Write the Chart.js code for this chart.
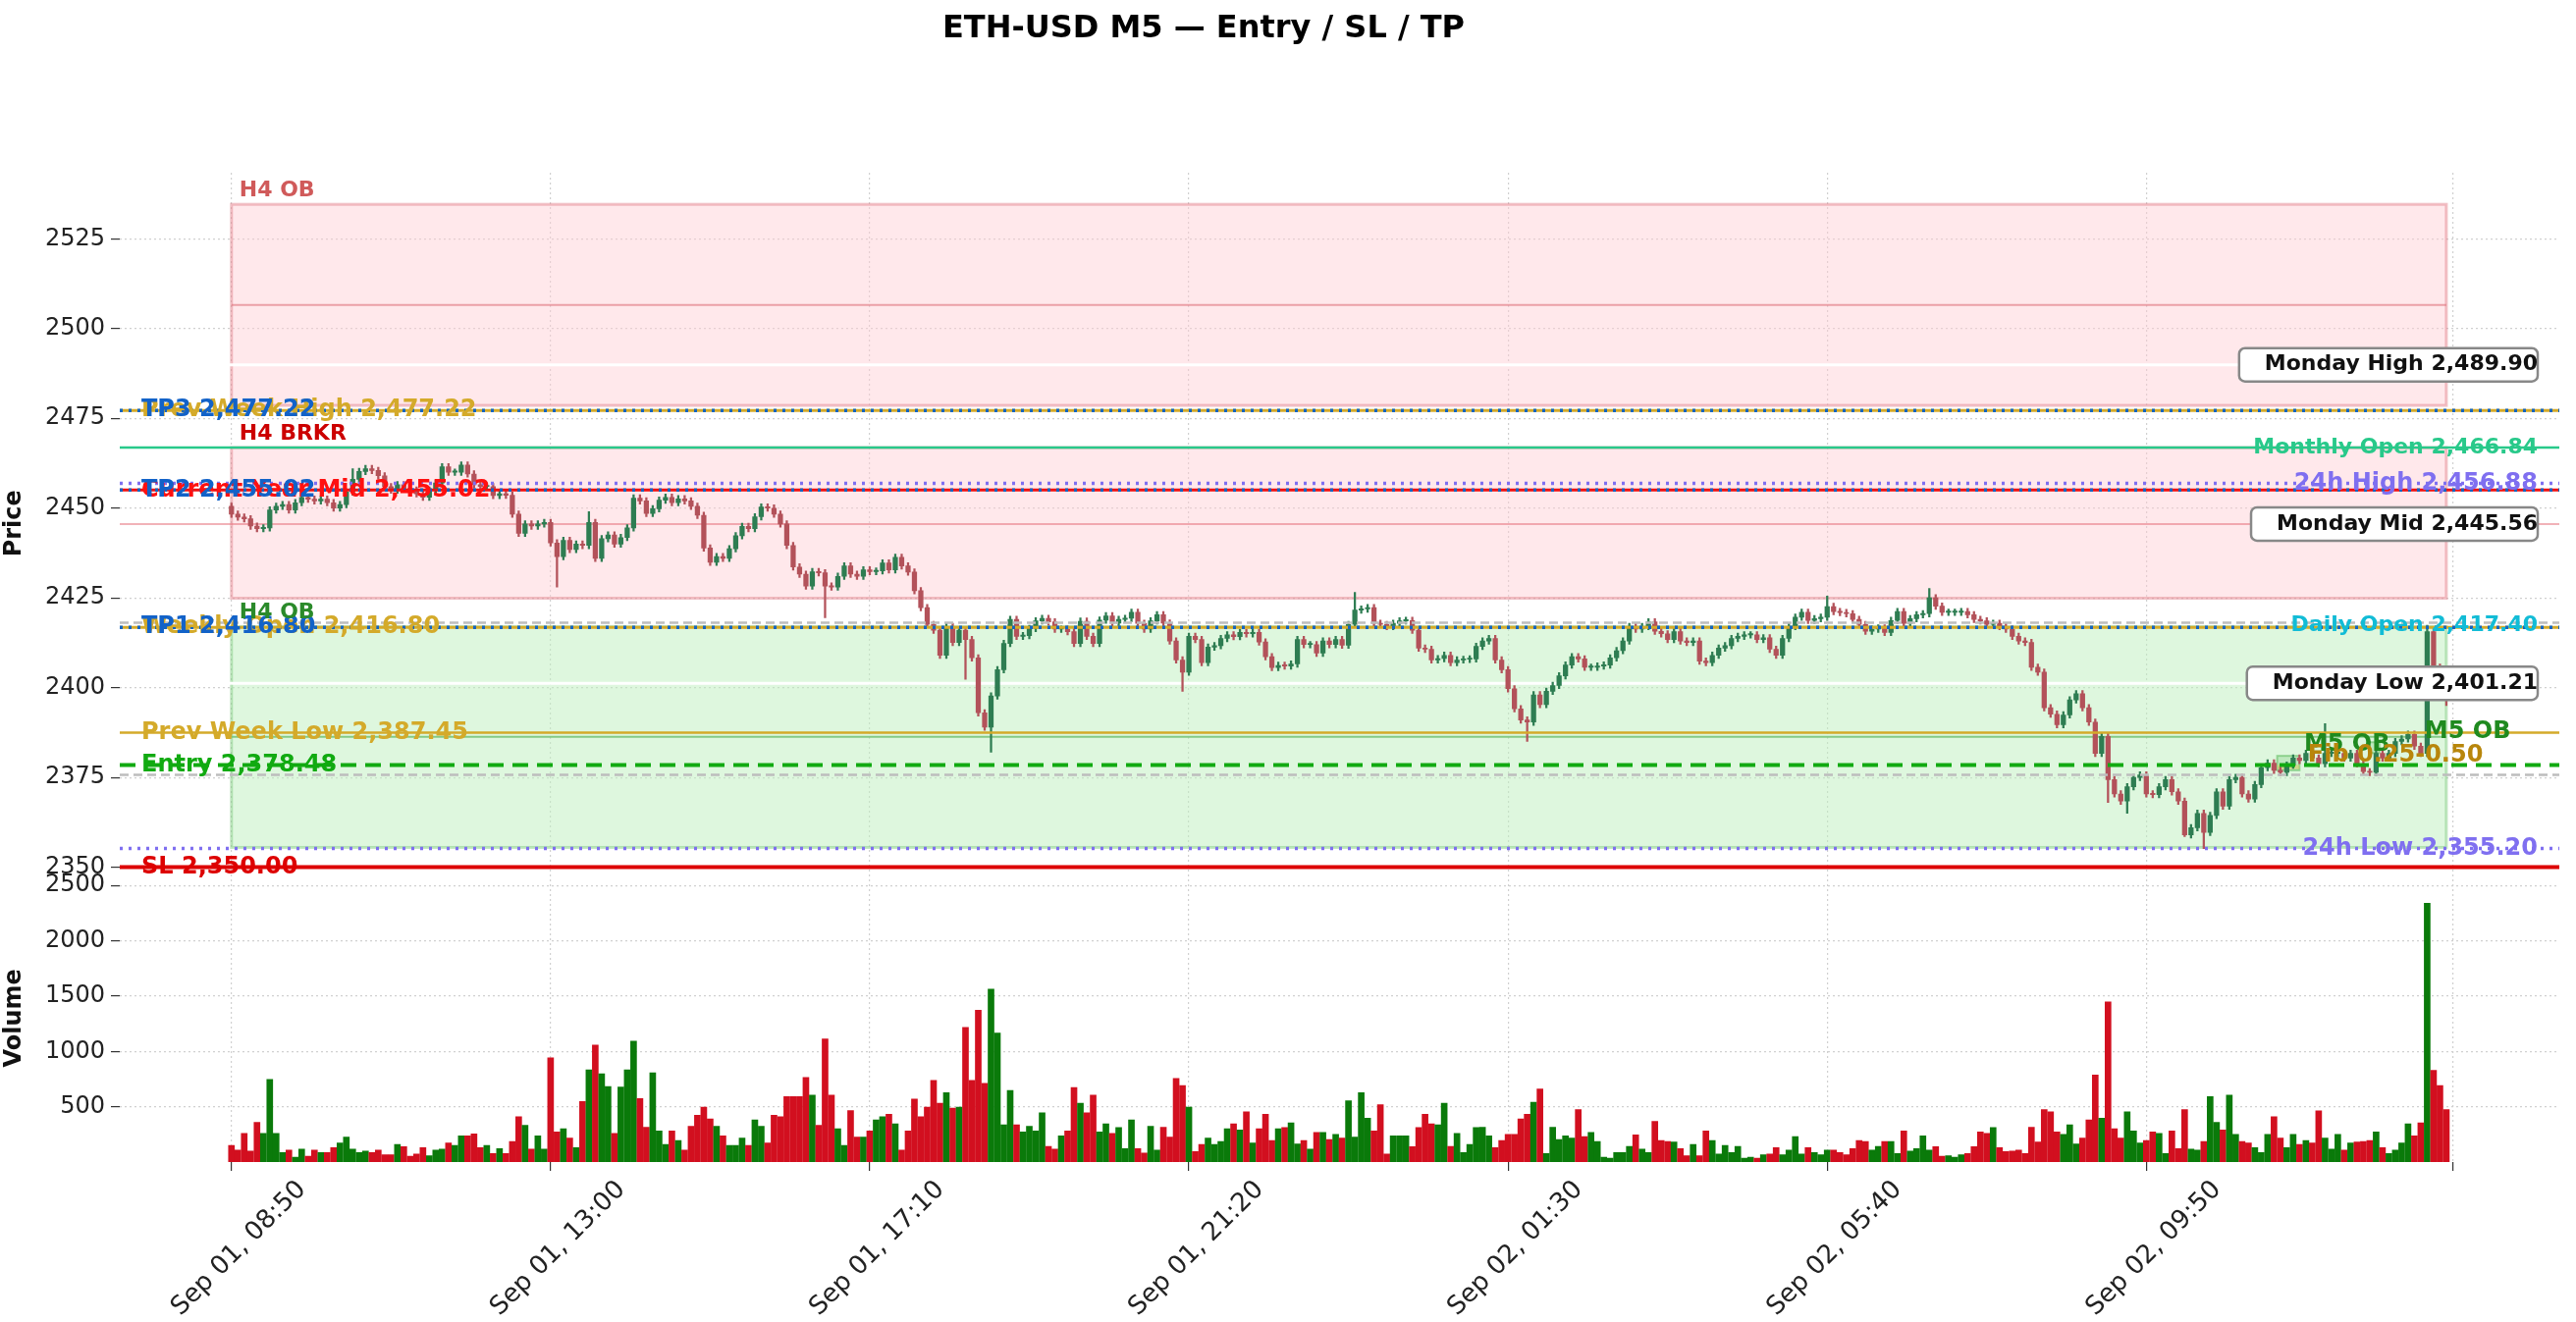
<!DOCTYPE html>
<html>
<head>
<meta charset="utf-8">
<script src="https://cdn.jsdelivr.net/npm/chart.js@4.4.0/dist/chart.umd.min.js"></script>
<style>
  html, body { margin: 0; padding: 0; background: #fff; }
  #wrap { width: 2624px; height: 1347px; position: relative; }
</style>
</head>
<body>
<div id="wrap"><canvas id="ethChart" width="2624" height="1347"></canvas></div>
<script>
// --- Candle data (M5, 348 bars from Sep 01 08:50) ---
const firstOpen = 2450.5;
const closes = [
  2448.3,2447.5,2447.0,2445.0,2444.3,2444.5,2449.5,2450.5,2451.0,2449.5,
  2451.5,2453.0,2452.5,2452.0,2452.5,2451.5,2450.0,2451.0,2454.5,2458.0,
  2460.2,2461.0,2460.5,2459.0,2456.0,2455.0,2456.5,2455.5,2455.0,2454.0,
  2453.0,2455.0,2457.0,2461.5,2460.0,2460.0,2462.0,2459.5,2456.5,2456.0,
  2456.0,2453.5,2454.0,2453.6,2448.3,2443.0,2445.6,2445.0,2445.6,2446.0,
  2440.3,2436.5,2441.0,2438.5,2440.0,2439.6,2446.0,2436.0,2441.5,2442.5,
  2440.0,2441.8,2444.5,2452.8,2452.0,2448.5,2449.8,2452.2,2453.0,2451.5,
  2452.6,2452.0,2450.5,2448.0,2438.9,2434.9,2436.5,2436.0,2438.7,2442.3,
  2444.9,2444.3,2447.6,2450.3,2450.0,2448.3,2445.6,2439.6,2433.6,2431.6,
  2428.3,2432.3,2432.0,2428.3,2428.0,2431.0,2433.9,2431.6,2431.0,2432.8,
  2432.3,2432.5,2434.7,2432.8,2436.3,2433.9,2432.2,2427.0,2422.3,2417.6,
  2416.0,2409.0,2417.0,2412.6,2416.0,2413.4,2408.3,2393.0,2389.0,2397.7,
  2405.0,2412.3,2419.0,2414.3,2414.5,2416.5,2418.6,2419.3,2418.3,2416.3,
  2416.3,2415.6,2412.3,2418.5,2414.3,2412.3,2418.8,2420.0,2418.0,2419.0,
  2419.3,2421.0,2417.9,2416.3,2418.6,2420.3,2418.0,2413.0,2407.7,2404.3,
  2414.3,2413.4,2407.0,2411.3,2411.7,2413.7,2414.7,2414.2,2415.4,2415.0,
  2415.4,2412.7,2408.6,2405.6,2406.2,2406.0,2406.6,2413.4,2412.0,2412.0,
  2409.6,2413.0,2412.0,2413.4,2411.8,2417.6,2421.6,2421.9,2422.3,2417.9,
  2417.6,2417.0,2417.9,2418.6,2418.7,2416.0,2411.0,2410.7,2407.7,2408.1,
  2409.0,2407.0,2407.7,2407.9,2408.0,2411.5,2413.0,2413.7,2407.7,2405.0,
  2399.7,2394.1,2391.0,2390.4,2398.0,2395.3,2399.0,2400.6,2403.3,2406.3,
  2408.6,2408.0,2405.7,2405.7,2406.0,2406.3,2408.3,2410.3,2413.0,2417.0,
  2416.3,2417.0,2418.3,2415.7,2415.0,2413.4,2415.6,2413.0,2412.6,2413.0,
  2407.4,2407.0,2409.0,2411.0,2411.7,2413.7,2414.3,2414.7,2414.7,2413.4,
  2413.9,2410.7,2409.0,2413.7,2417.0,2419.6,2421.0,2418.7,2419.2,2419.6,
  2422.6,2421.2,2420.9,2420.6,2419.0,2417.6,2415.7,2416.3,2416.6,2415.4,
  2418.7,2421.2,2417.9,2419.2,2420.3,2420.6,2425.0,2422.7,2421.0,2421.0,
  2421.0,2421.2,2420.3,2419.0,2418.6,2417.6,2417.9,2417.0,2416.3,2414.3,
  2413.0,2412.6,2405.7,2404.3,2394.4,2392.6,2389.7,2392.4,2396.6,2398.3,
  2394.4,2390.4,2381.7,2386.4,2374.4,2370.4,2368.4,2372.4,2375.0,2375.7,
  2370.4,2370.2,2372.4,2374.4,2371.0,2368.4,2359.0,2361.0,2365.0,2359.7,
  2364.4,2371.0,2367.0,2374.4,2375.0,2370.4,2369.0,2373.0,2377.7,2379.0,
  2377.0,2376.4,2378.4,2380.4,2379.7,2381.7,2380.4,2378.8,2381.7,2381.7,
  2381.7,2380.4,2381.7,2378.8,2376.6,2376.4,2381.7,2380.4,2381.7,2385.0,
  2385.7,2387.0,2383.7,2381.7,2415.6,2405.7,2404.3,2399.5
];
// long wicks that stand out: [index, high, low]
const wickExtremes = [
  [19, 2461.0, null], [51, null, 2428.0], [56, 2449.0, null], [93, null, 2419.5],
  [115, null, 2402.3], [119, null, 2382.0], [149, null, 2399.0], [176, 2426.5, null],
  [203, null, 2385.0], [250, 2425.5, null], [266, 2427.6, null], [294, null, 2368.0],
  [297, null, 2365.0], [306, null, 2358.5], [309, null, 2355.2], [328, 2390.0, null],
  [344, 2417.4, null], [347, null, 2395.0]
];
const volumes = [
  151,108,259,99,358,259,747,259,86,108, 43,117,52,108,86,86,130,173,225,117,
  86,99,86,108,65,65,160,138,52,73, 130,56,108,117,173,151,237,237,255,130,
  151,78,121,78,186,410,332,117,237,117, 941,272,302,216,130,548,833,1058,799,682,
  259,678,833,1092,574,315,807,281,160,281, 194,108,324,423,497,389,324,237,151,151,
  216,151,380,324,173,423,410,592,592,592,
  764,605,332,1114,605,302,151,466,225,225, 281,380,410,432,345,108,281,570,410,497,
  738,531,626,488,497,1218,738,1373,712,1563, 1166,337,648,337,272,324,281,445,142,117,
  237,281,674,531,445,605,272,345,259,311, 121,380,121,82,324,108,315,225,756,691,
  497,95,160,216,160,186,302,345,289,453, 173,302,432,194,302,311,354,164,194,117,
  268,268,203,250,216,553,225,
  626,397,281,518,73,237,237,237,138,311, 432,345,337,531,142,259,86,160,311,315,
  237,130,194,250,250,389,432,540,661,78, 315,203,237,216,475,229,268,186,43,35,
  86,86,142,246,117,86,367,194,186,181, 121,56,160,56,281,194,73,151,86,142,
  35,43,35,65,73,130,65,108,229,73, 130,86,65,108,108,86,65,121,194,186,
  108,142,186,186,78,281,99,121,237,
  108,138,52,56,43,65,78,138,272,259, 311,130,95,99,108,78,315,181,475,453,
  272,250,337,164,216,380,786,397,1447,302, 216,453,281,173,194,272,259,78,281,121,
  475,117,108,186,592,358,289,605,250,186, 173,130,86,250,410,216,130,250,160,194,
  173,462,216,117,250,108,173,181,186,194, 272,130,78,108,173,345,237,354,2340,829,
  691,475
];

// --- Axis ticks ---
const xTickPos = [0, 50, 100, 150, 200, 250, 300, 348];
const xTickLabels = ["Sep 01, 08:50", "Sep 01, 13:00", "Sep 01, 17:10", "Sep 01, 21:20",
                     "Sep 02, 01:30", "Sep 02, 05:40", "Sep 02, 09:50", ""];
const priceTicks = [2350, 2375, 2400, 2425, 2450, 2475, 2500, 2525];
const volumeTicks = [500, 1000, 1500, 2000, 2500];

// --- Trade levels ---
const entryPrice = 2378.48;
const slPrice = 2350.00;
const tpPrices = [2416.80, 2455.02, 2477.22];
const refLevels = {
  prevWeekHigh: 2477.22, monthlyOpen: 2466.84, high24h: 2456.88, currentYearMid: 2455.02,
  dailyOpen: 2417.40, weeklyOpen: 2416.80, prevWeekLow: 2387.45, low24h: 2355.20
};
const mondayLevels = [2489.90, 2445.56, 2401.21];
const h4BearOB = [2478.6, 2534.6];
const h4Breaker = [2424.9, 2466.84];
const h4BullOB = [2355.5, 2417.0];
const m5OBs = [[320.5, 324, 2377.0, 2381.0], [335, 336.5, 2381.8, 2384.8]];
const fibZone = [320.5, 324, 2377.3, 2378.5];

// build OHLC
const opens = closes.map((c, i) => i === 0 ? firstOpen : closes[i - 1]);
const highs = closes.map((c, i) => Math.max(opens[i], c) + 0.9);
const lows = closes.map((c, i) => Math.min(opens[i], c) - 0.9);
wickExtremes.forEach(([i, h, l]) => { if (h !== null) highs[i] = h; if (l !== null) lows[i] = l; });

const upCandle = "#2e7d52", downCandle = "#b3525a";
const upVol = "#0a7a0a", downVol = "#d20f1f";
const isUp = closes.map((c, i) => c >= opens[i]);

const fmt = v => v.toLocaleString("en-US", { minimumFractionDigits: 2, maximumFractionDigits: 2 });
const BOLD = "bold 22px 'DejaVu Sans'";
const BIG = "bold 24px 'DejaVu Sans'";

// --- Drawing levels, zones and labels ---
const levelsPlugin = {
  id: "levels",
  beforeDatasetsDraw(chart) {
    const { ctx, scales: { x, y } } = chart;
    const box = (i0, i1, p0, p1, fill, stroke, lw) => {
      const xa = x.getPixelForValue(i0), xb = x.getPixelForValue(i1);
      const ya = y.getPixelForValue(p1), yb = y.getPixelForValue(p0);
      ctx.fillStyle = fill; ctx.fillRect(xa, ya, xb - xa, yb - ya);
      if (stroke) { ctx.strokeStyle = stroke; ctx.lineWidth = lw || 2; ctx.strokeRect(xa, ya, xb - xa, yb - ya); }
    };
    ctx.save();
    box(0, 347, h4BearOB[0], h4BearOB[1], "rgba(255,205,210,0.45)", "rgba(225,120,130,0.45)", 3);
    box(0, 347, h4Breaker[0], h4Breaker[1], "rgba(255,205,210,0.45)", "rgba(225,120,130,0.45)", 3);
    box(0, 347, h4BullOB[0], h4BullOB[1], "rgba(190,240,190,0.5)", "rgba(120,200,120,0.45)", 3);
    const seg = (p, color, lw) => {
      const py = y.getPixelForValue(p);
      ctx.strokeStyle = color; ctx.lineWidth = lw;
      ctx.beginPath(); ctx.moveTo(x.getPixelForValue(0), py); ctx.lineTo(x.getPixelForValue(347), py); ctx.stroke();
    };
    seg((h4BearOB[0] + h4BearOB[1]) / 2, "rgba(220,110,120,0.6)", 2);
    seg(2386.3, "rgba(110,190,110,0.8)", 2);
    const full = (p, color, lw) => {
      const py = y.getPixelForValue(p);
      ctx.strokeStyle = color; ctx.lineWidth = lw;
      ctx.beginPath(); ctx.moveTo(chart.chartArea.left, py); ctx.lineTo(chart.chartArea.right, py); ctx.stroke();
    };
    full(mondayLevels[0], "#ffffff", 3);
    full(mondayLevels[2], "#ffffff", 3);
    full(mondayLevels[1], "rgba(230,110,120,0.7)", 1.5);
    m5OBs.forEach(o => box(o[0], o[1], o[2], o[3], "rgba(160,220,160,0.5)", "rgba(100,190,100,0.6)", 2));
    box(fibZone[0], fibZone[1], fibZone[2], fibZone[3], "rgba(225,200,90,0.5)", null);
    ctx.restore();
  },
  afterDatasetsDraw(chart) {
    const { ctx, chartArea: ca, scales: { x, y } } = chart;
    const py = p => y.getPixelForValue(p);
    const full = (p, color, lw, dash) => {
      ctx.strokeStyle = color; ctx.lineWidth = lw; ctx.setLineDash(dash || []);
      ctx.beginPath(); ctx.moveTo(ca.left, py(p)); ctx.lineTo(ca.right, py(p)); ctx.stroke();
      ctx.setLineDash([]);
    };
    const text = (s, px, p, color, align, base, font) => {
      ctx.font = font || BOLD; ctx.fillStyle = color;
      ctx.textAlign = align; ctx.textBaseline = base || "middle";
      ctx.fillText(s, px, p > 2000 ? py(p) : p);
    };
    ctx.save();
    ctx.beginPath(); ctx.rect(ca.left, y.top, ca.right - ca.left, y.bottom - y.top + 4); ctx.clip();
    full(2418.1, "#bdbdbd", 2.5, [9, 5]);
    full(2375.7, "#bdbdbd", 2.5, [9, 5]);
    full(refLevels.prevWeekHigh, "#d4aa2a", 3);
    full(refLevels.monthlyOpen, "#28c98a", 2.5);
    full(refLevels.high24h, "#7f6ff0", 3.5, [3, 6]);
    full(refLevels.currentYearMid, "#ee1111", 3);
    full(refLevels.weeklyOpen, "#d4aa2a", 3);
    full(refLevels.prevWeekLow, "#d4aa2a", 2.5);
    full(refLevels.low24h, "#7f6ff0", 3.5, [3, 6]);
    tpPrices.forEach(p => full(p, "#1565c0", 3.5, [3, 6]));
    full(entryPrice, "#11aa11", 4, [16, 9]);
    full(slPrice, "#dd0000", 4);

    const lx = ca.left + 22, rx = ca.right - 22;
    text("Prev Week High " + fmt(refLevels.prevWeekHigh), lx, refLevels.prevWeekHigh, "#d4aa2a", "left", null, BIG);
    text("TP3 " + fmt(tpPrices[2]), lx, tpPrices[2], "#1262c8", "left", null, BIG);
    text("Current Year Mid " + fmt(refLevels.currentYearMid), lx, refLevels.currentYearMid, "#ff1010", "left", null, BIG);
    text("TP2 " + fmt(tpPrices[1]), lx, tpPrices[1], "#1262c8", "left", null, BIG);
    text("Weekly Open " + fmt(refLevels.weeklyOpen), lx, refLevels.weeklyOpen, "#d4aa2a", "left", null, BIG);
    text("TP1 " + fmt(tpPrices[0]), lx, tpPrices[0], "#1262c8", "left", null, BIG);
    text("Prev Week Low " + fmt(refLevels.prevWeekLow), lx, refLevels.prevWeekLow, "#d4aa2a", "left", null, BIG);
    text("Entry " + fmt(entryPrice), lx, entryPrice, "#11aa11", "left", null, BIG);
    text("SL " + fmt(slPrice), lx, slPrice, "#dd0000", "left", null, BIG);

    text("Monthly Open " + fmt(refLevels.monthlyOpen), rx, refLevels.monthlyOpen, "#28c98a", "right");
    text("24h High " + fmt(refLevels.high24h), rx, refLevels.high24h, "#7f6ff0", "right", null, BIG);
    text("Daily Open " + fmt(refLevels.dailyOpen), rx, refLevels.dailyOpen, "#12bcd6", "right");
    text("24h Low " + fmt(refLevels.low24h), rx, refLevels.low24h, "#7f6ff0", "right", null, BIG);

    ["Monday High ", "Monday Mid ", "Monday Low "].forEach((n, k) => {
      const s = n + fmt(mondayLevels[k]);
      ctx.font = BOLD;
      const w = ctx.measureText(s).width;
      const bx = rx - w - 12, by = py(mondayLevels[k]) - 17;
      ctx.fillStyle = "#ffffff"; ctx.strokeStyle = "#888"; ctx.lineWidth = 2.5;
      ctx.beginPath(); ctx.roundRect(bx - 14, by, w + 26, 34, 6); ctx.fill(); ctx.stroke();
      text(s, rx, mondayLevels[k], "#111", "right");
    });

    const zx = x.getPixelForValue(0) + 8;
    text("H4 OB", zx, py(h4BearOB[1]) - 3, "#d05a5a", "left", "bottom");
    text("H4 BRKR", zx, py(h4Breaker[1]) - 3, "#cc0000", "left", "bottom");
    text("H4 OB", zx, py(h4BullOB[1]) - 3, "#2a8a2a", "left", "bottom");
    text("M5 OB", x.getPixelForValue(324.7), 2384.0, "#1f8a1f", "left", null, BIG);
    text("M5 OB", x.getPixelForValue(343.6), 2387.7, "#1f8a1f", "left", null, BIG);
    text("Fib 0.25-0.50", x.getPixelForValue(325.3), 2381.2, "#b8860b", "left", null, BIG);
    ctx.restore();

    ctx.save();
    ctx.font = "bold 32px 'DejaVu Sans'"; ctx.fillStyle = "#000";
    ctx.textAlign = "center"; ctx.textBaseline = "middle";
    ctx.fillText("ETH-USD M5 \u2014 Entry / SL / TP", 1226, 30);
    ctx.restore();
  }
};

const gridStyle = { color: "#d0d0d0", lineWidth: 1.2, drawTicks: true, tickLength: 9, tickColor: "#333", offset: false };
const tickFont = { family: "DejaVu Sans", size: 24 };
const titleFont = { family: "DejaVu Sans", size: 24, weight: "bold" };

new Chart(document.getElementById("ethChart"), {
  type: "bar",
  data: {
    datasets: [
      {
        label: "wick", yAxisID: "y", grouped: false, barThickness: 1.6,
        data: closes.map((c, i) => ({ x: i, y: [lows[i], highs[i]] })),
        backgroundColor: isUp.map(u => u ? upCandle : downCandle)
      },
      {
        label: "body", yAxisID: "y", grouped: false, barThickness: 4.6,
        data: closes.map((c, i) => {
          const lo = Math.min(opens[i], c), hi = Math.max(opens[i], c);
          return { x: i, y: [lo, Math.max(hi, lo + 0.35)] };
        }),
        backgroundColor: isUp.map(u => u ? upCandle : downCandle)
      },
      {
        label: "volume", yAxisID: "yv", grouped: false, barThickness: 6,
        data: volumes.map((v, i) => ({ x: i, y: v })),
        backgroundColor: isUp.map(u => u ? upVol : downVol)
      }
    ]
  },
  options: {
    responsive: false,
    animation: false,
    layout: { padding: { top: 176, right: 17, left: 0, bottom: 0 } },
    plugins: { legend: { display: false }, tooltip: { enabled: false } },
    scales: {
      x: {
        type: "linear", min: -17.5, max: 364.7, offset: false,
        afterBuildTicks: s => { s.ticks = xTickPos.map(v => ({ value: v })); },
        afterFit: s => { s.height = 163; },
        ticks: {
          callback: v => xTickLabels[xTickPos.indexOf(v)] || "",
          minRotation: 45, maxRotation: 45, color: "#222", font: { family: "DejaVu Sans", size: 26 },
          padding: 4, labelOffset: 72
        },
        grid: gridStyle,
        border: { display: false, dash: [2, 3] }
      },
      yv: {
        type: "linear", position: "left", stack: "panels", stackWeight: 292,
        min: 0, max: 2604,
        afterBuildTicks: s => { s.ticks = volumeTicks.map(v => ({ value: v })); },
        afterFit: s => { s.width = 122; },
        ticks: { color: "#222", font: tickFont, padding: 6, callback: v => String(v) },
        grid: gridStyle,
        border: { display: false, dash: [2, 3] },
        title: { display: true, text: "Volume", color: "#111", font: titleFont, padding: 0 }
      },
      y: {
        type: "linear", position: "left", stack: "panels", stackWeight: 711,
        min: 2348.1, max: 2543.4,
        afterBuildTicks: s => { s.ticks = priceTicks.map(v => ({ value: v })); },
        afterFit: s => { s.width = 122; },
        ticks: { color: "#222", font: tickFont, padding: 6, callback: v => String(v) },
        grid: gridStyle,
        border: { display: false, dash: [2, 3] },
        title: { display: true, text: "Price", color: "#111", font: titleFont, padding: 0 }
      }
    }
  },
  plugins: [levelsPlugin]
});
</script>
</body>
</html>
